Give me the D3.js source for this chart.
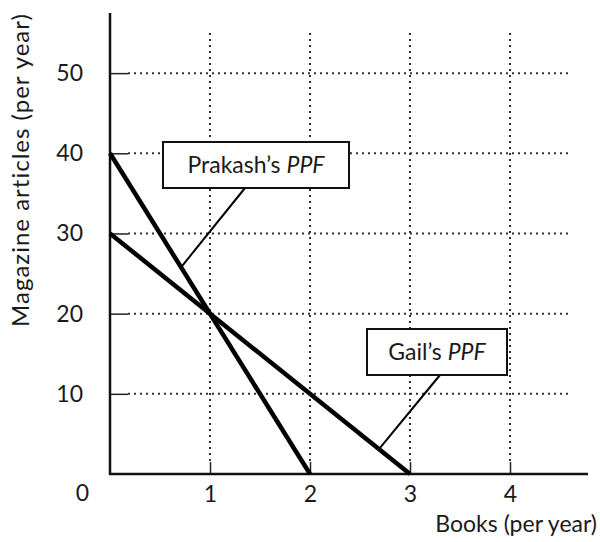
<!DOCTYPE html>
<html><head><meta charset="utf-8">
<script src="https://cdn.jsdelivr.net/npm/d3@7"></script>
<style>body{margin:0;background:#fff}svg{display:block}text{font-family:Lato,"DejaVu Sans",sans-serif;fill:#1a1a1a}</style>
</head><body><svg id="c" width="600" height="542"></svg>
<script>
const xTicks = [1, 2, 3, 4];
const yTicks = [10, 20, 30, 40, 50];
const prakash = [[0, 40], [2, 0]];
const gail = [[0, 30], [3, 0]];
const xTitle = "Books (per year)";
const yTitle = "Magazine articles (per year)";
const FS = 23;

const svg = d3.select("#c");
const x = d3.scaleLinear().domain([0, 4.8]).range([110, 590]);
const y = d3.scaleLinear().domain([0, 57.5]).range([474, 13]);

// grid
const grid = svg.append("g").attr("stroke", "#333").attr("stroke-width", 2)
  .attr("stroke-dasharray", "2,4").attr("stroke-linecap", "butt");
grid.selectAll("line.h").data(yTicks).join("line")
  .attr("x1", x(0) + 18).attr("x2", x(4.62)).attr("y1", d => y(d)).attr("y2", d => y(d));
grid.selectAll("line.v").data(xTicks).join("line")
  .attr("x1", d => x(d)).attr("x2", d => x(d)).attr("y1", y(55)).attr("y2", y(0) - 12);

// axes
const ya = svg.append("g").attr("transform", `translate(${x(0)},0)`)
  .call(d3.axisLeft(y).tickValues(yTicks).tickFormat(d3.format("d")).tickSize(-18).tickPadding(27));
const xa = svg.append("g").attr("transform", `translate(0,${y(0)})`)
  .call(d3.axisBottom(x).tickValues(xTicks).tickFormat(d3.format("d")).tickSize(-12).tickPadding(12));
[ya, xa].forEach(a => {
  a.select(".domain").remove();
  a.selectAll(".tick line").attr("stroke", "#222").attr("stroke-width", 1.5);
  a.selectAll("text").attr("font-size", FS).attr("fill", "#1a1a1a")
   .style("font-family", "Lato, 'DejaVu Sans', sans-serif");
});
svg.append("line").attr("x1", x(0)).attr("x2", x(0)).attr("y1", y(57.5)).attr("y2", y(0) + 1)
  .attr("stroke", "#111").attr("stroke-width", 2.5);
svg.append("line").attr("x1", x(0) - 1).attr("x2", x(4.78)).attr("y1", y(0)).attr("y2", y(0))
  .attr("stroke", "#111").attr("stroke-width", 2.5);
svg.append("text").attr("x", x(0) - 21).attr("y", y(0) + 27).attr("text-anchor", "end")
  .attr("font-size", FS).text("0");

// PPF lines
const line = d3.line().x(d => x(d[0])).y(d => y(d[1]));
[prakash, gail].forEach(d => svg.append("path").attr("d", line(d)).attr("fill", "none")
  .attr("stroke", "#000").attr("stroke-width", 4.5).attr("stroke-linecap", "butt"));

// labels
function label(bx, by, bw, bh, name, lx1, ly1, lx2, ly2) {
  svg.append("line").attr("x1", lx1).attr("y1", ly1).attr("x2", lx2).attr("y2", ly2)
    .attr("stroke", "#000").attr("stroke-width", 2);
  svg.append("rect").attr("x", bx).attr("y", by).attr("width", bw).attr("height", bh)
    .attr("fill", "#fff").attr("stroke", "#111").attr("stroke-width", 2);
  const t = svg.append("text").attr("x", bx + bw / 2).attr("y", by + bh / 2 + 8)
    .attr("text-anchor", "middle").attr("font-size", FS);
  t.append("tspan").text(name + "\u2019s ");
  t.append("tspan").attr("font-style", "italic").text("PPF");
}
label(163, 142, 186, 46, "Prakash", 245, 188, x(0.7), y(0.7 * -20 + 40) + 3);
label(367, 329, 140, 46, "Gail", 440, 375, x(2.7), y(2.7 * -10 + 30) - 2);

svg.append("text").attr("x", 597).attr("y", 532).attr("text-anchor", "end")
  .attr("font-size", FS).text(xTitle);
svg.append("text").attr("transform", "translate(29,170) rotate(-90)").attr("text-anchor", "middle")
  .attr("font-size", 24).attr("letter-spacing", 1).text(yTitle);
</script></body></html>
